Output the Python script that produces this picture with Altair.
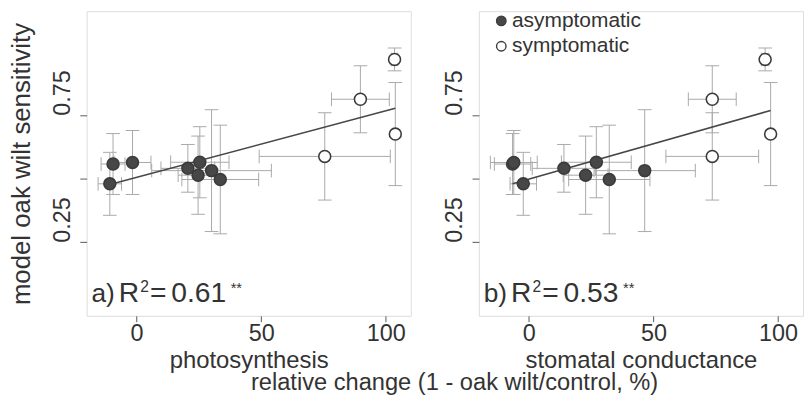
import altair as alt
import pandas as pd

# ---------------- data ----------------
groups = ["asymptomatic"] * 8 + ["symptomatic"] * 4
sensitivity = [0.558, 0.564, 0.480, 0.541, 0.565, 0.514, 0.532, 0.497, 0.588, 0.813, 0.970, 0.676]
sensitivity_err = [0.120, 0.126, 0.124, 0.094, 0.140, 0.154, 0.240, 0.214, 0.172, 0.132, 0.045, 0.203]

photosynthesis = [-9.4, -1.6, -10.7, 20.6, 25.4, 24.7, 30.1, 33.6, 75.5, 89.8, 103.5, 103.8]
photosynthesis_err = [4.8, 7.4, 4.7, 10.8, 11.7, 8.0, 24.0, 15.4, 26.3, 11.6, 1.3, 0.0]

conductance = [-6.5, -6.0, -2.2, 14.1, 27.1, 22.8, 46.5, 32.3, 73.6, 73.6, 94.8, 97.0]
conductance_err = [7.3, 9.4, 5.3, 12.7, 14.0, 9.0, 20.3, 16.3, 18.6, 9.6, 1.5, 0.0]

fit_photo_x = [-10.7, 103.8]
fit_photo_y = [0.477, 0.778]
fit_cond_x = [-6.5, 97.0]
fit_cond_y = [0.480, 0.769]

x_ticks = [0, 50, 100]
y_ticks = [0.25, 0.5, 0.75]
legend_labels = ["asymptomatic", "symptomatic"]

# ---------------- style ----------------
FONT = "Liberation Sans, Arial, sans-serif"
TXT = "#333333"
EB = "#a8a8a8"
DARK = "#474747"
W, H = 333, 313
XDOM = [-20, 110]
YDOM = [-0.04, 1.16]


def make_panel(xv, xe, fx, fy, xtitle, tag, r2, legend, ytitle):
    df = pd.DataFrame(dict(x=xv, xerr=xe, y=sensitivity, yerr=sensitivity_err, group=groups))
    df["xlo"] = df.x - df.xerr
    df["xhi"] = df.x + df.xerr
    df["ylo"] = df.y - df.yerr
    df["yhi"] = df.y + df.yerr
    hbars = df[df.xerr > 0]

    xs = alt.Scale(domain=XDOM, nice=False, zero=False)
    ys = alt.Scale(domain=YDOM, nice=False, zero=False)
    xaxis = alt.Axis(values=x_ticks, title=xtitle, grid=False, domain=False, tickSize=6,
                     tickColor="#555555", labelFontSize=24, labelFont=FONT, labelColor=TXT,
                     titleFontSize=24.5, titleFont=FONT, titleColor=TXT, titleFontWeight="normal",
                     labelPadding=0, titlePadding=4)
    yaxis = alt.Axis(values=y_ticks, title=ytitle if ytitle else "", grid=False, domain=False,
                     tickSize=7, tickColor="#555555", labelAngle=270, labelAlign="left",
                     labelBaseline="bottom", labelPadding=6,
                     labelExpr="datum.value == 0.5 ? '' : format(datum.value, '.2f')",
                     labelFontSize=24, labelFont=FONT, labelColor=TXT,
                     titleFontSize=26.5, titleFont=FONT, titleColor=TXT, titleFontWeight="normal",
                     titlePadding=23, minExtent=30, maxExtent=30)

    def X(f):
        return alt.X(f, type="quantitative", scale=xs, axis=xaxis)

    def Y(f):
        return alt.Y(f, type="quantitative", scale=ys, axis=yaxis)

    base = alt.Chart(df)
    vrule = base.mark_rule(color=EB, strokeWidth=1).encode(x=X("x"), y=Y("ylo"), y2="yhi")
    vcap_lo = base.mark_point(shape="M-1,0L1,0", size=196, stroke=EB, strokeWidth=1,
                              filled=False, opacity=1).encode(x=X("x"), y=Y("ylo"))
    vcap_hi = base.mark_point(shape="M-1,0L1,0", size=196, stroke=EB, strokeWidth=1,
                              filled=False, opacity=1).encode(x=X("x"), y=Y("yhi"))
    hb = alt.Chart(hbars)
    hrule = hb.mark_rule(color=EB, strokeWidth=1).encode(x=X("xlo"), x2="xhi", y=Y("y"))
    hcap_lo = hb.mark_point(shape="M0,-1L0,1", size=196, stroke=EB, strokeWidth=1,
                            filled=False, opacity=1).encode(x=X("xlo"), y=Y("y"))
    hcap_hi = hb.mark_point(shape="M0,-1L0,1", size=196, stroke=EB, strokeWidth=1,
                            filled=False, opacity=1).encode(x=X("xhi"), y=Y("y"))

    fit = alt.Chart(pd.DataFrame(dict(x=fx, y=fy))).mark_line(
        color=DARK, strokeWidth=1.6).encode(x=X("x"), y=Y("y"))

    pts = base.mark_point(shape="circle", size=150, filled=True, stroke="#3a3a3a",
                          strokeWidth=1.6, opacity=1).encode(
        x=X("x"), y=Y("y"),
        fill=alt.Fill("group:N", scale=alt.Scale(domain=legend_labels, range=[DARK, "white"]),
                      legend=None))

    one = alt.Chart(pd.DataFrame({"a": [0]}))

    def txt(s, x, y, size):
        return one.mark_text(text=s, align="left", baseline="alphabetic", font=FONT,
                             fontSize=size, color=TXT).encode(x=alt.value(x), y=alt.value(y))

    anno = [
        txt(tag + ")", 5, 299, 27),
        txt("R", 33, 299, 29),
        txt("2", 55, 288, 16),
        txt("=", 65, 299, 29),
        txt(r2, 87, 299, 29),
        txt("**", 148, 290, 15),
    ]

    layers = [vrule, vcap_lo, vcap_hi, hrule, hcap_lo, hcap_hi, fit, pts] + anno
    if legend:
        for i, (lab, fc) in enumerate(zip(legend_labels, [DARK, "white"])):
            yy = 10 + 26 * i
            layers.append(one.mark_point(shape="circle", size=95, filled=True, fill=fc,
                                         stroke="#3a3a3a", strokeWidth=1.4, opacity=1)
                          .encode(x=alt.value(23), y=alt.value(yy)))
            layers.append(one.mark_text(text=lab, align="left", baseline="middle", font=FONT,
                                        fontSize=21.5, color=TXT)
                          .encode(x=alt.value(34), y=alt.value(yy)))
    return alt.layer(*layers).properties(width=W, height=H)


pa = make_panel(photosynthesis, photosynthesis_err, fit_photo_x, fit_photo_y,
                "photosynthesis", "a", "0.61", False, "model oak wilt sensitivity")
pb = make_panel(conductance, conductance_err, fit_cond_x, fit_cond_y,
                "stomatal conductance", "b", "0.53", True, None)

chart = alt.hconcat(pa, pb, spacing=31).properties(
    title=alt.TitleParams("relative change (1 - oak wilt/control, %)", orient="bottom",
                          anchor="middle", fontSize=24.3, font=FONT, fontWeight="normal",
                          color=TXT, offset=-1, dx=50),
    padding={"left": 8, "top": 4, "right": 0, "bottom": 0},
).configure_view(stroke="#555555", strokeWidth=1.2).configure(background="white")

chart.save("out.html", embed_options={"renderer": "svg", "actions": False})
